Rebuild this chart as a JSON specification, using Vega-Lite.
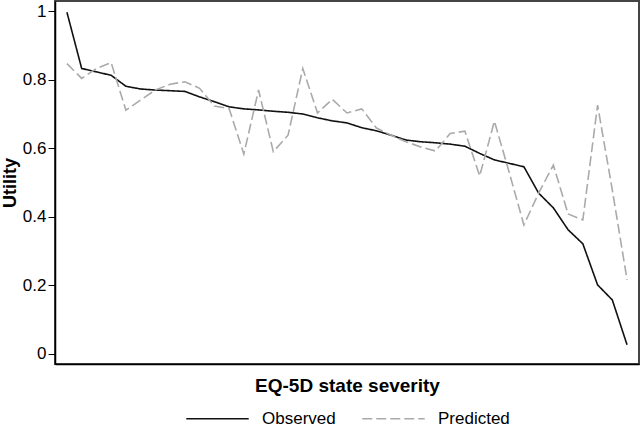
{
  "$schema": "https://vega.github.io/schema/vega-lite/v6.json",
  "width": 584,
  "height": 363,
  "autosize": {"type": "none"},
  "padding": {"left": 55, "top": 1, "right": 4, "bottom": 64},
  "config": {
    "font": "Liberation Sans",
    "view": {"stroke": "#444", "strokeWidth": 2},
    "axis": {"grid": false, "domainColor": "#000", "tickColor": "#000", "domainWidth": 1.5, "labelColor": "#000", "titleColor": "#000"}
  },
  "data": {
    "values": [
      {"severity": 0, "series": "Observed", "utility": 0.997},
      {"severity": 1, "series": "Observed", "utility": 0.833},
      {"severity": 2, "series": "Observed", "utility": 0.823},
      {"severity": 3, "series": "Observed", "utility": 0.813},
      {"severity": 4, "series": "Observed", "utility": 0.781},
      {"severity": 5, "series": "Observed", "utility": 0.773},
      {"severity": 6, "series": "Observed", "utility": 0.770},
      {"severity": 7, "series": "Observed", "utility": 0.768},
      {"severity": 8, "series": "Observed", "utility": 0.766},
      {"severity": 9, "series": "Observed", "utility": 0.750},
      {"severity": 10, "series": "Observed", "utility": 0.736},
      {"severity": 11, "series": "Observed", "utility": 0.721},
      {"severity": 12, "series": "Observed", "utility": 0.715},
      {"severity": 13, "series": "Observed", "utility": 0.712},
      {"severity": 14, "series": "Observed", "utility": 0.708},
      {"severity": 15, "series": "Observed", "utility": 0.705},
      {"severity": 16, "series": "Observed", "utility": 0.700},
      {"severity": 17, "series": "Observed", "utility": 0.689},
      {"severity": 18, "series": "Observed", "utility": 0.680},
      {"severity": 19, "series": "Observed", "utility": 0.674},
      {"severity": 20, "series": "Observed", "utility": 0.660},
      {"severity": 21, "series": "Observed", "utility": 0.651},
      {"severity": 22, "series": "Observed", "utility": 0.638},
      {"severity": 23, "series": "Observed", "utility": 0.624},
      {"severity": 24, "series": "Observed", "utility": 0.619},
      {"severity": 25, "series": "Observed", "utility": 0.616},
      {"severity": 26, "series": "Observed", "utility": 0.612},
      {"severity": 27, "series": "Observed", "utility": 0.606},
      {"severity": 28, "series": "Observed", "utility": 0.585},
      {"severity": 29, "series": "Observed", "utility": 0.566},
      {"severity": 30, "series": "Observed", "utility": 0.556},
      {"severity": 31, "series": "Observed", "utility": 0.546},
      {"severity": 32, "series": "Observed", "utility": 0.469},
      {"severity": 33, "series": "Observed", "utility": 0.426},
      {"severity": 34, "series": "Observed", "utility": 0.362},
      {"severity": 35, "series": "Observed", "utility": 0.321},
      {"severity": 36, "series": "Observed", "utility": 0.201},
      {"severity": 37, "series": "Observed", "utility": 0.157},
      {"severity": 38, "series": "Observed", "utility": 0.026},
      {"severity": 0, "series": "Predicted", "utility": 0.847},
      {"severity": 1, "series": "Predicted", "utility": 0.804},
      {"severity": 2, "series": "Predicted", "utility": 0.833},
      {"severity": 3, "series": "Predicted", "utility": 0.850},
      {"severity": 4, "series": "Predicted", "utility": 0.711},
      {"severity": 5, "series": "Predicted", "utility": 0.741},
      {"severity": 6, "series": "Predicted", "utility": 0.770},
      {"severity": 7, "series": "Predicted", "utility": 0.787},
      {"severity": 8, "series": "Predicted", "utility": 0.794},
      {"severity": 9, "series": "Predicted", "utility": 0.775},
      {"severity": 10, "series": "Predicted", "utility": 0.723},
      {"severity": 11, "series": "Predicted", "utility": 0.716},
      {"severity": 12, "series": "Predicted", "utility": 0.583},
      {"severity": 13, "series": "Predicted", "utility": 0.770},
      {"severity": 14, "series": "Predicted", "utility": 0.590},
      {"severity": 15, "series": "Predicted", "utility": 0.638},
      {"severity": 16, "series": "Predicted", "utility": 0.833},
      {"severity": 17, "series": "Predicted", "utility": 0.703},
      {"severity": 18, "series": "Predicted", "utility": 0.743},
      {"severity": 19, "series": "Predicted", "utility": 0.703},
      {"severity": 20, "series": "Predicted", "utility": 0.715},
      {"severity": 21, "series": "Predicted", "utility": 0.659},
      {"severity": 22, "series": "Predicted", "utility": 0.638},
      {"severity": 23, "series": "Predicted", "utility": 0.619},
      {"severity": 24, "series": "Predicted", "utility": 0.604},
      {"severity": 25, "series": "Predicted", "utility": 0.592},
      {"severity": 26, "series": "Predicted", "utility": 0.643},
      {"severity": 27, "series": "Predicted", "utility": 0.650},
      {"severity": 28, "series": "Predicted", "utility": 0.519},
      {"severity": 29, "series": "Predicted", "utility": 0.679},
      {"severity": 30, "series": "Predicted", "utility": 0.530},
      {"severity": 31, "series": "Predicted", "utility": 0.376},
      {"severity": 32, "series": "Predicted", "utility": 0.469},
      {"severity": 33, "series": "Predicted", "utility": 0.551},
      {"severity": 34, "series": "Predicted", "utility": 0.408},
      {"severity": 35, "series": "Predicted", "utility": 0.391},
      {"severity": 36, "series": "Predicted", "utility": 0.726},
      {"severity": 37, "series": "Predicted", "utility": 0.478},
      {"severity": 38, "series": "Predicted", "utility": 0.216}
    ]
  },
  "mark": {"type": "line", "strokeWidth": 1.6},
  "encoding": {
    "x": {
      "field": "severity", "type": "quantitative",
      "scale": {"domain": [-0.81, 38.81], "nice": false, "zero": false},
      "axis": {"labels": false, "ticks": false, "title": "EQ-5D state severity", "titleFontSize": 19, "titleFontWeight": "bold", "titlePadding": 12}
    },
    "y": {
      "field": "utility", "type": "quantitative",
      "scale": {"domain": [-0.03, 1.03], "nice": false, "zero": false},
      "axis": {"values": [0, 0.2, 0.4, 0.6, 0.8, 1], "format": "~g", "labelFontSize": 17, "tickSize": 7, "labelPadding": 2, "title": "Utility", "titleFontSize": 18, "titleFontWeight": "bold", "titlePadding": 3}
    },
    "color": {
      "field": "series", "type": "nominal",
      "scale": {"domain": ["Observed", "Predicted"], "range": ["#111111", "#aaaaaa"]},
      "legend": {"orient": "none", "legendX": 130, "legendY": 385, "direction": "horizontal", "title": null, "symbolType": "stroke", "symbolSize": 3900, "symbolStrokeWidth": 1.6, "labelFontSize": 17, "labelColor": "#000", "labelOffset": 12, "columnPadding": 23}
    },
    "strokeDash": {
      "field": "series", "type": "nominal",
      "scale": {"domain": ["Observed", "Predicted"], "range": [[1, 0], [10, 4]]},
      "legend": null
    }
  }
}
